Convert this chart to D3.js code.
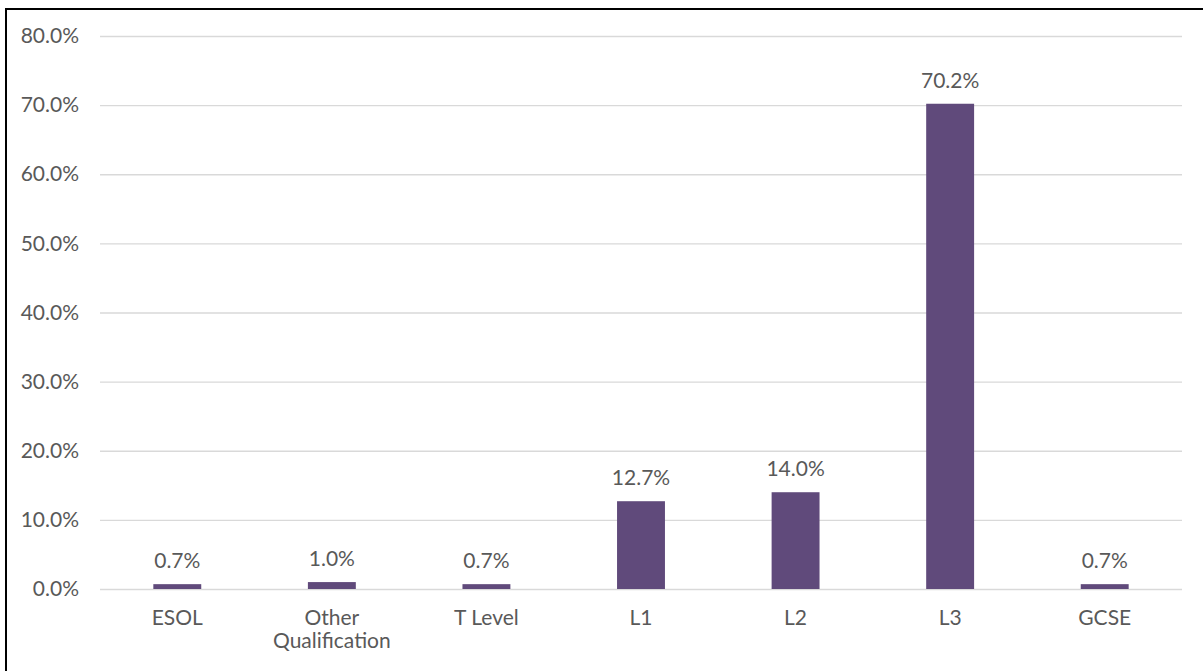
<!DOCTYPE html>
<html>
<head>
<meta charset="utf-8">
<title>Qualification share</title>
<script src="https://cdn.jsdelivr.net/npm/d3@7"></script>
<style>
  body { margin: 0; background: #fff; }
  svg text { font-family: Lato, "Open Sans", sans-serif; fill: #595959; }
</style>
</head>
<body>
<div id="chart"></div>
<script>
  // Data
  var categories = ["ESOL", "Other Qualification", "T Level", "L1", "L2", "L3", "GCSE"];
  var values = [0.7, 1.0, 0.7, 12.7, 14.0, 70.2, 0.7];
  var yTicks = [0, 10, 20, 30, 40, 50, 60, 70, 80];

  // Plot area (note: "top" is taken by window.top, so use plot* names)
  var W = 1203, H = 671,
      plotLeft = 100, plotRight = 1182,
      plotTop = 36, plotBottom = 589,
      fontSize = "21px";

  var svg = d3.select("#chart").append("svg").attr("width", W).attr("height", H);

  // Frame (top and left edges visible, the rest runs off the picture)
  svg.append("rect")
    .attr("x", 6).attr("y", 9)
    .attr("width", W + 10).attr("height", H + 10)
    .attr("fill", "none").attr("stroke", "#000").attr("stroke-width", 2);

  var x = d3.scaleBand().domain(categories).range([plotLeft, plotRight]).paddingInner(0.69).paddingOuter(0.345);
  var y = d3.scaleLinear().domain([0, 80]).range([plotBottom, plotTop]);

  // Gridlines
  svg.append("g").selectAll("line").data(yTicks).enter().append("line")
    .attr("x1", plotLeft).attr("x2", plotRight)
    .attr("y1", function(d){ return y(d) + 0.5; })
    .attr("y2", function(d){ return y(d) + 0.5; })
    .attr("stroke", "#d9d9d9").attr("stroke-width", 1.3);

  // Y axis labels
  var yAxis = d3.axisLeft(y).tickValues(yTicks).tickSize(0).tickPadding(21)
    .tickFormat(function(d){ return d.toFixed(1) + "%"; });
  var ya = svg.append("g").attr("transform", "translate(" + plotLeft + ",0)").call(yAxis);
  ya.select(".domain").remove();
  ya.attr("font-family", null).attr("font-size", null);
  ya.selectAll("text").style("font-size", fontSize).attr("fill", null);

  // Bars
  svg.append("g").selectAll("rect").data(values).enter().append("rect")
    .attr("x", function(d, i){ return x(categories[i]); })
    .attr("width", x.bandwidth())
    .attr("y", function(d){ return y(d); })
    .attr("height", function(d){ return y(0) - y(d); })
    .attr("fill", "#604a7b");

  // Value labels
  svg.append("g").selectAll("text").data(values).enter().append("text")
    .attr("x", function(d, i){ return x(categories[i]) + x.bandwidth() / 2; })
    .attr("y", function(d){ return y(d) - 16; })
    .attr("text-anchor", "middle")
    .style("font-size", fontSize)
    .text(function(d){ return d.toFixed(1) + "%"; });

  // Category labels, wrapped like the original
  var xl = svg.append("g").selectAll("text").data(categories).enter().append("text")
    .attr("x", function(d){ return x(d) + x.bandwidth() / 2; })
    .attr("y", 625)
    .attr("text-anchor", "middle")
    .style("font-size", fontSize);
  xl.each(function(d){
    var t = d3.select(this);
    if (d === "Other Qualification") {
      d.split(" ").forEach(function(w, k){
        t.append("tspan").attr("x", t.attr("x")).attr("dy", k ? 23 : 0).text(w);
      });
    } else {
      t.text(d);
    }
  });
</script>
</body>
</html>
